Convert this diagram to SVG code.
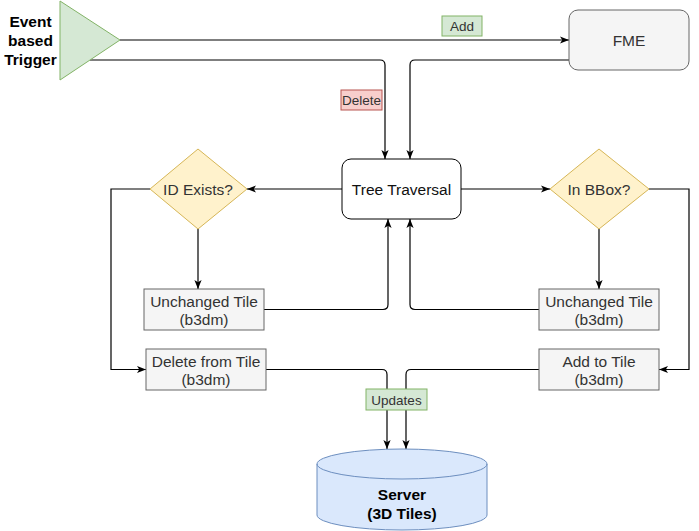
<svg xmlns="http://www.w3.org/2000/svg" width="699" height="531" viewBox="0 0 699 531">
<defs>
<style>
text{font-family:"Liberation Sans",Arial,sans-serif;text-anchor:middle}
.n{font-size:15.5px;fill:#333}
.lbl{font-size:13.5px;fill:#333}
.b{font-weight:bold;font-size:15.5px;fill:#000}
.c{fill:none;stroke:#000;stroke-width:1.2;marker-end:url(#a)}
.gray{fill:#f5f5f5;stroke:#666}
.dia{fill:#fff2cc;stroke:#d6b656}
</style>
<marker id="a" viewBox="0 0 10 10" refX="10" refY="5" markerWidth="9" markerHeight="9" markerUnits="userSpaceOnUse" orient="auto">
<path d="M0,1 L10,5 L0,9 L2.5,5 z" fill="#000"/>
</marker>
</defs>
<rect width="699" height="531" fill="#fff"/>
<g id="connectors">
<path class="c" d="M120,40 H569"/>
<path class="c" d="M90,60 H380 Q385,60 385,65 V159"/>
<path class="c" d="M569,60 H415 Q410,60 410,65 V159"/>
<path class="c" d="M342,189 H247"/>
<path class="c" d="M461,189 H550"/>
<path class="c" d="M198,229 V289"/>
<path class="c" d="M599,229 V289"/>
<path class="c" d="M264,309.5 H383 Q388,309.5 388,304.5 V219"/>
<path class="c" d="M539,309.5 H415 Q410,309.5 410,304.5 V219"/>
<path class="c" d="M150,189 H111 V369.5 H146"/>
<path class="c" d="M649,189 H689 V369.5 H659"/>
<path class="c" d="M266,369.5 H382 Q387,369.5 387,374.5 V449"/>
<path class="c" d="M539,369.5 H411 Q406,369.5 406,374.5 V449"/>
</g>
<g id="label-add">
<rect x="442" y="16" width="40" height="20" fill="#d5e8d4" stroke="#82b366"/>
<text class="lbl" x="462" y="31">Add</text>
</g>
<g id="label-delete">
<rect x="341" y="90" width="41" height="20" fill="#f8cecc" stroke="#b85450"/>
<text class="lbl" x="361.5" y="105">Delete</text>
</g>
<g id="label-updates">
<rect x="366" y="389" width="61" height="21" fill="#d5e8d4" stroke="#82b366"/>
<text class="lbl" x="396.5" y="404.5">Updates</text>
</g>
<g id="trigger">
<polygon points="60,1 60,80 120,40" fill="#d5e8d4" stroke="#82b366"/>
<text class="b" x="30.5" y="27">Event</text>
<text class="b" x="30.5" y="46">based</text>
<text class="b" x="30.5" y="65">Trigger</text>
</g>
<g id="fme">
<rect x="569" y="10" width="120" height="60" rx="9" class="gray"/>
<text class="n" x="629" y="46">FME</text>
</g>
<g id="tree">
<rect x="342" y="159" width="119" height="60" rx="9" fill="#fff" stroke="#000"/>
<text class="n" x="401.5" y="194.5" style="fill:#111">Tree Traversal</text>
</g>
<g id="idexists">
<polygon points="198,149 247,189 198,229 150,189" class="dia"/>
<text class="n" x="198" y="194.5">ID Exists?</text>
</g>
<g id="inbbox">
<polygon points="599,149 649,189 599,229 550,189" class="dia"/>
<text class="n" x="599" y="194.5">In BBox?</text>
</g>
<g id="unchanged-left">
<rect x="144" y="289" width="120" height="41" class="gray"/>
<text class="n" x="204" y="306.5">Unchanged Tile</text>
<text class="n" x="204" y="324.5">(b3dm)</text>
</g>
<g id="unchanged-right">
<rect x="539" y="289" width="120" height="41" class="gray"/>
<text class="n" x="599" y="306.5">Unchanged Tile</text>
<text class="n" x="599" y="324.5">(b3dm)</text>
</g>
<g id="delete-tile">
<rect x="146" y="349" width="120" height="41" class="gray"/>
<text class="n" x="206" y="366.5">Delete from Tile</text>
<text class="n" x="206" y="384.5">(b3dm)</text>
</g>
<g id="add-tile">
<rect x="539" y="349" width="120" height="41" class="gray"/>
<text class="n" x="599" y="366.5">Add to Tile</text>
<text class="n" x="599" y="384.5">(b3dm)</text>
</g>
<g id="server">
<path d="M317,464 A85,15 0 0 1 487,464 V515 A85,15 0 0 1 317,515 Z" fill="#dae8fc" stroke="#6c8ebf"/>
<path d="M317,464 A85,15 0 0 0 487,464" fill="none" stroke="#6c8ebf"/>
<text class="b" x="402" y="500">Server</text>
<text class="b" x="402" y="519">(3D Tiles)</text>
</g>
</svg>
